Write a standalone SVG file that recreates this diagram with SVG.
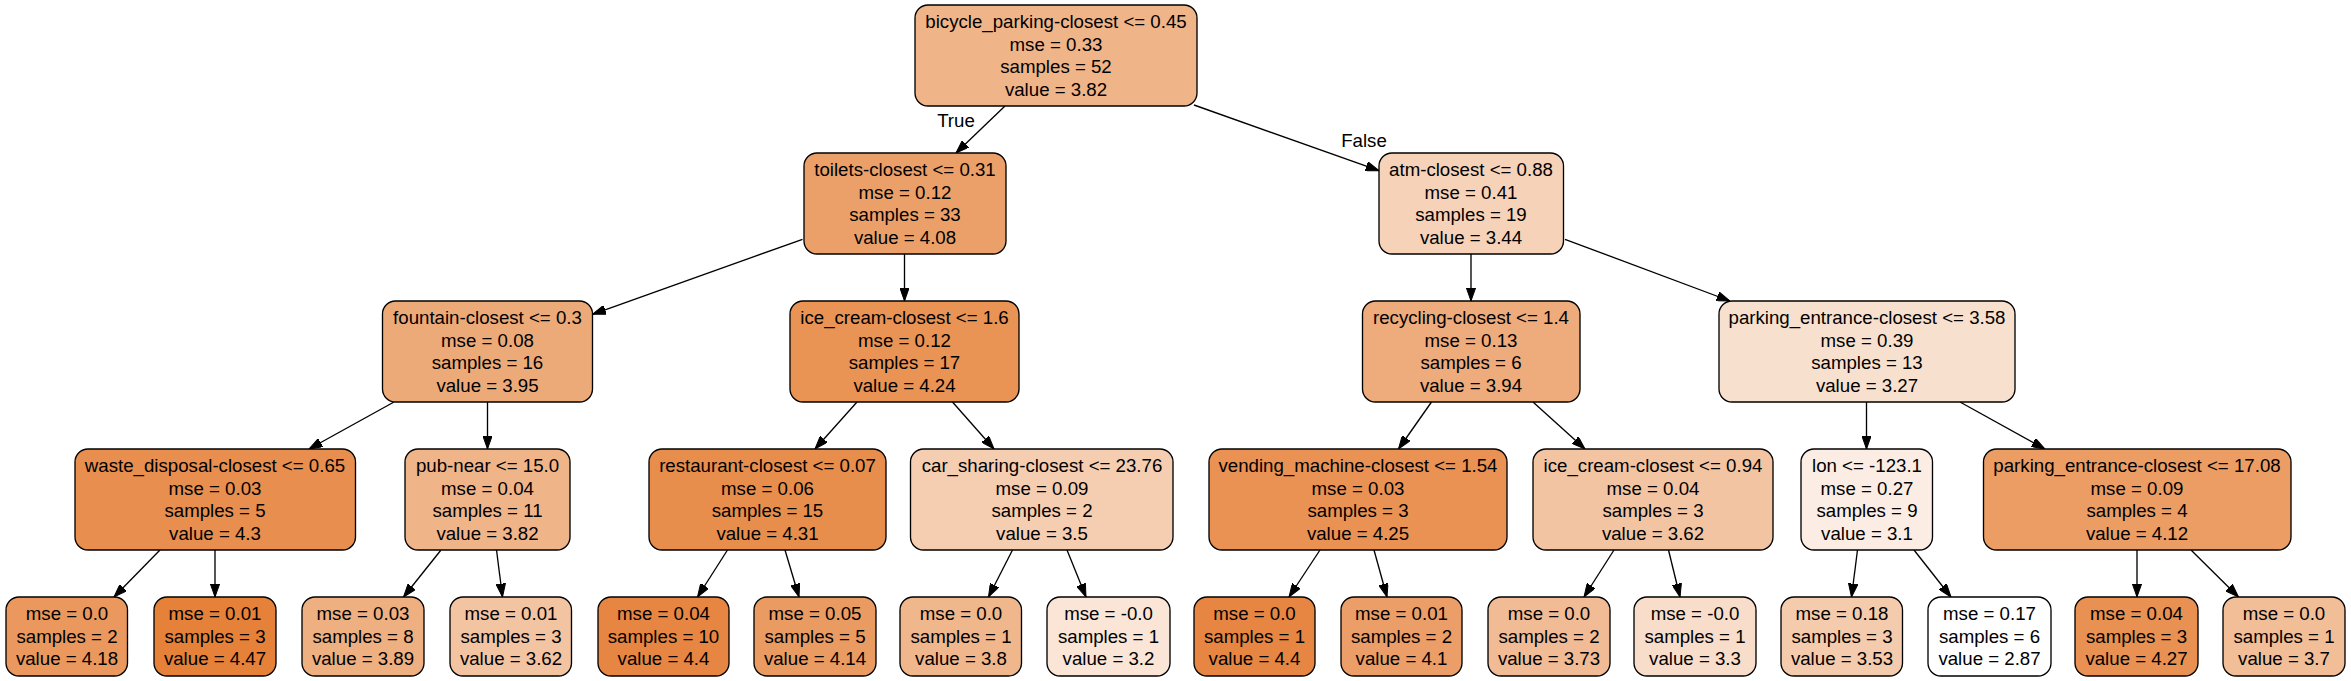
<svg xmlns="http://www.w3.org/2000/svg" width="2351" height="681" viewBox="0 0 2351 681">
<defs>
<style>
.n rect{stroke:#000;stroke-width:1.33}
.n text{font-family:"Liberation Sans",Arial,sans-serif;font-size:18.67px;fill:#000;text-anchor:middle}
.e line{stroke:#000;stroke-width:1.33;marker-end:url(#arr)}
.lbl{font-family:"Liberation Sans",Arial,sans-serif;font-size:18.67px;fill:#000;text-anchor:middle}
</style>
<marker id="arr" viewBox="0 0 13.3 9.4" refX="13.3" refY="4.7" markerWidth="13.3" markerHeight="9.4" markerUnits="userSpaceOnUse" orient="auto">
<path d="M0,0 L13.3,4.7 L0,9.4 z" fill="#000" stroke="#000" stroke-width="1"/>
</marker>
</defs>
<rect width="2351" height="681" fill="#fff"/>
<g id="edges" class="e">
<line x1="1005" y1="106" x2="956" y2="153"/>
<line x1="1194" y1="105" x2="1379" y2="170.7"/>
<line x1="802.5" y1="239.3" x2="592.5" y2="314.3"/>
<line x1="904.5" y1="254" x2="904.5" y2="301"/>
<line x1="1471" y1="254" x2="1471" y2="301"/>
<line x1="1565" y1="239.3" x2="1730" y2="301"/>
<line x1="394" y1="402" x2="309" y2="449"/>
<line x1="487.5" y1="402" x2="487.5" y2="449"/>
<line x1="857" y1="402" x2="815" y2="449"/>
<line x1="952.5" y1="402" x2="994" y2="449"/>
<line x1="1431.5" y1="402" x2="1398.5" y2="449"/>
<line x1="1533" y1="402" x2="1585" y2="449"/>
<line x1="1866.5" y1="402" x2="1866.5" y2="449"/>
<line x1="1960" y1="402" x2="2045" y2="449"/>
<line x1="160" y1="550" x2="114" y2="597"/>
<line x1="215" y1="550" x2="215" y2="597"/>
<line x1="441" y1="550" x2="403.5" y2="597"/>
<line x1="496.5" y1="550" x2="502.5" y2="597"/>
<line x1="727.5" y1="550" x2="697.5" y2="597"/>
<line x1="785" y1="550" x2="799" y2="597"/>
<line x1="1012.5" y1="550" x2="988.5" y2="597"/>
<line x1="1067" y1="550" x2="1086" y2="597"/>
<line x1="1320" y1="550" x2="1289" y2="597"/>
<line x1="1374" y1="550" x2="1387" y2="597"/>
<line x1="1614" y1="550" x2="1584" y2="597"/>
<line x1="1668.5" y1="550" x2="1680" y2="597"/>
<line x1="1857.5" y1="550" x2="1851.5" y2="597"/>
<line x1="1914" y1="550" x2="1951" y2="597"/>
<line x1="2137" y1="550" x2="2137" y2="597"/>
<line x1="2191" y1="550" x2="2238.5" y2="597"/>
<text class="lbl" x="956" y="127">True</text>
<text class="lbl" x="1364" y="147">False</text>
</g>
<g id="n0" class="n"><rect x="915" y="5" width="282" height="101" rx="13" fill="#f0b489"/>
<text x="1056" y="28">bicycle_parking-closest &lt;= 0.45</text><text x="1056" y="50.5">mse = 0.33</text><text x="1056" y="73">samples = 52</text><text x="1056" y="95.5">value = 3.82</text></g>
<g id="n1" class="n"><rect x="804" y="153" width="202" height="101" rx="13" fill="#eba069"/>
<text x="905" y="176">toilets-closest &lt;= 0.31</text><text x="905" y="198.5">mse = 0.12</text><text x="905" y="221">samples = 33</text><text x="905" y="243.5">value = 4.08</text></g>
<g id="n2" class="n"><rect x="1379" y="153" width="184.5" height="101" rx="13" fill="#f6d2b8"/>
<text x="1471" y="176">atm-closest &lt;= 0.88</text><text x="1471" y="198.5">mse = 0.41</text><text x="1471" y="221">samples = 19</text><text x="1471" y="243.5">value = 3.44</text></g>
<g id="n3" class="n"><rect x="382.5" y="301" width="210" height="101" rx="13" fill="#edaa79"/>
<text x="487.5" y="324">fountain-closest &lt;= 0.3</text><text x="487.5" y="346.5">mse = 0.08</text><text x="487.5" y="369">samples = 16</text><text x="487.5" y="391.5">value = 3.95</text></g>
<g id="n4" class="n"><rect x="790" y="301" width="229" height="101" rx="13" fill="#e99355"/>
<text x="904.5" y="324">ice_cream-closest &lt;= 1.6</text><text x="904.5" y="346.5">mse = 0.12</text><text x="904.5" y="369">samples = 17</text><text x="904.5" y="391.5">value = 4.24</text></g>
<g id="n5" class="n"><rect x="1362.5" y="301" width="217.5" height="101" rx="13" fill="#eeab7b"/>
<text x="1471" y="324">recycling-closest &lt;= 1.4</text><text x="1471" y="346.5">mse = 0.13</text><text x="1471" y="369">samples = 6</text><text x="1471" y="391.5">value = 3.94</text></g>
<g id="n6" class="n"><rect x="1719" y="301" width="296" height="101" rx="13" fill="#f8e0ce"/>
<text x="1867" y="324">parking_entrance-closest &lt;= 3.58</text><text x="1867" y="346.5">mse = 0.39</text><text x="1867" y="369">samples = 13</text><text x="1867" y="391.5">value = 3.27</text></g>
<g id="n7" class="n"><rect x="75" y="449" width="280.5" height="101" rx="13" fill="#e88e4e"/>
<text x="215" y="472">waste_disposal-closest &lt;= 0.65</text><text x="215" y="494.5">mse = 0.03</text><text x="215" y="517">samples = 5</text><text x="215" y="539.5">value = 4.3</text></g>
<g id="n8" class="n"><rect x="405" y="449" width="165" height="101" rx="13" fill="#f0b489"/>
<text x="487.5" y="472">pub-near &lt;= 15.0</text><text x="487.5" y="494.5">mse = 0.04</text><text x="487.5" y="517">samples = 11</text><text x="487.5" y="539.5">value = 3.82</text></g>
<g id="n9" class="n"><rect x="649" y="449" width="237" height="101" rx="13" fill="#e88e4d"/>
<text x="767.5" y="472">restaurant-closest &lt;= 0.07</text><text x="767.5" y="494.5">mse = 0.06</text><text x="767.5" y="517">samples = 15</text><text x="767.5" y="539.5">value = 4.31</text></g>
<g id="n10" class="n"><rect x="910.5" y="449" width="262.5" height="101" rx="13" fill="#f5cdb1"/>
<text x="1042" y="472">car_sharing-closest &lt;= 23.76</text><text x="1042" y="494.5">mse = 0.09</text><text x="1042" y="517">samples = 2</text><text x="1042" y="539.5">value = 3.5</text></g>
<g id="n11" class="n"><rect x="1209" y="449" width="298" height="101" rx="13" fill="#e99254"/>
<text x="1358" y="472">vending_machine-closest &lt;= 1.54</text><text x="1358" y="494.5">mse = 0.03</text><text x="1358" y="517">samples = 3</text><text x="1358" y="539.5">value = 4.25</text></g>
<g id="n12" class="n"><rect x="1533" y="449" width="240" height="101" rx="13" fill="#f3c4a2"/>
<text x="1653" y="472">ice_cream-closest &lt;= 0.94</text><text x="1653" y="494.5">mse = 0.04</text><text x="1653" y="517">samples = 3</text><text x="1653" y="539.5">value = 3.62</text></g>
<g id="n13" class="n"><rect x="1801" y="449" width="131.5" height="101" rx="13" fill="#fbede3"/>
<text x="1867" y="472">lon &lt;= -123.1</text><text x="1867" y="494.5">mse = 0.27</text><text x="1867" y="517">samples = 9</text><text x="1867" y="539.5">value = 3.1</text></g>
<g id="n14" class="n"><rect x="1983.5" y="449" width="307.5" height="101" rx="13" fill="#eb9d64"/>
<text x="2137" y="472">parking_entrance-closest &lt;= 17.08</text><text x="2137" y="494.5">mse = 0.09</text><text x="2137" y="517">samples = 4</text><text x="2137" y="539.5">value = 4.12</text></g>
<g id="n15" class="n"><rect x="6" y="597" width="121.5" height="79" rx="13" fill="#ea985d"/>
<text x="67" y="620">mse = 0.0</text><text x="67" y="642.5">samples = 2</text><text x="67" y="665">value = 4.18</text></g>
<g id="n16" class="n"><rect x="154" y="597" width="122" height="79" rx="13" fill="#e58139"/>
<text x="215" y="620">mse = 0.01</text><text x="215" y="642.5">samples = 3</text><text x="215" y="665">value = 4.47</text></g>
<g id="n17" class="n"><rect x="302" y="597" width="122" height="79" rx="13" fill="#eeaf81"/>
<text x="363" y="620">mse = 0.03</text><text x="363" y="642.5">samples = 8</text><text x="363" y="665">value = 3.89</text></g>
<g id="n18" class="n"><rect x="450" y="597" width="121.5" height="79" rx="13" fill="#f3c4a2"/>
<text x="511" y="620">mse = 0.01</text><text x="511" y="642.5">samples = 3</text><text x="511" y="665">value = 3.62</text></g>
<g id="n19" class="n"><rect x="598" y="597" width="131" height="79" rx="13" fill="#e68642"/>
<text x="663.5" y="620">mse = 0.04</text><text x="663.5" y="642.5">samples = 10</text><text x="663.5" y="665">value = 4.4</text></g>
<g id="n20" class="n"><rect x="754" y="597" width="122" height="79" rx="13" fill="#ea9b62"/>
<text x="815" y="620">mse = 0.05</text><text x="815" y="642.5">samples = 5</text><text x="815" y="665">value = 4.14</text></g>
<g id="n21" class="n"><rect x="900" y="597" width="121.5" height="79" rx="13" fill="#f0b68c"/>
<text x="961" y="620">mse = 0.0</text><text x="961" y="642.5">samples = 1</text><text x="961" y="665">value = 3.8</text></g>
<g id="n22" class="n"><rect x="1047" y="597" width="123" height="79" rx="13" fill="#fae5d6"/>
<text x="1108.5" y="620">mse = -0.0</text><text x="1108.5" y="642.5">samples = 1</text><text x="1108.5" y="665">value = 3.2</text></g>
<g id="n23" class="n"><rect x="1194" y="597" width="121" height="79" rx="13" fill="#e68642"/>
<text x="1254.5" y="620">mse = 0.0</text><text x="1254.5" y="642.5">samples = 1</text><text x="1254.5" y="665">value = 4.4</text></g>
<g id="n24" class="n"><rect x="1341" y="597" width="121" height="79" rx="13" fill="#eb9e67"/>
<text x="1401.5" y="620">mse = 0.01</text><text x="1401.5" y="642.5">samples = 2</text><text x="1401.5" y="665">value = 4.1</text></g>
<g id="n25" class="n"><rect x="1488" y="597" width="122" height="79" rx="13" fill="#f1bb95"/>
<text x="1549" y="620">mse = 0.0</text><text x="1549" y="642.5">samples = 2</text><text x="1549" y="665">value = 3.73</text></g>
<g id="n26" class="n"><rect x="1634" y="597" width="122" height="79" rx="13" fill="#f8ddca"/>
<text x="1695" y="620">mse = -0.0</text><text x="1695" y="642.5">samples = 1</text><text x="1695" y="665">value = 3.3</text></g>
<g id="n27" class="n"><rect x="1781" y="597" width="121.5" height="79" rx="13" fill="#f4cbad"/>
<text x="1842" y="620">mse = 0.18</text><text x="1842" y="642.5">samples = 3</text><text x="1842" y="665">value = 3.53</text></g>
<g id="n28" class="n"><rect x="1928" y="597" width="123" height="79" rx="13" fill="#ffffff"/>
<text x="1989.5" y="620">mse = 0.17</text><text x="1989.5" y="642.5">samples = 6</text><text x="1989.5" y="665">value = 2.87</text></g>
<g id="n29" class="n"><rect x="2075" y="597" width="123" height="79" rx="13" fill="#e89152"/>
<text x="2136.5" y="620">mse = 0.04</text><text x="2136.5" y="642.5">samples = 3</text><text x="2136.5" y="665">value = 4.27</text></g>
<g id="n30" class="n"><rect x="2223" y="597" width="122" height="79" rx="13" fill="#f1be98"/>
<text x="2284" y="620">mse = 0.0</text><text x="2284" y="642.5">samples = 1</text><text x="2284" y="665">value = 3.7</text></g>
</svg>
